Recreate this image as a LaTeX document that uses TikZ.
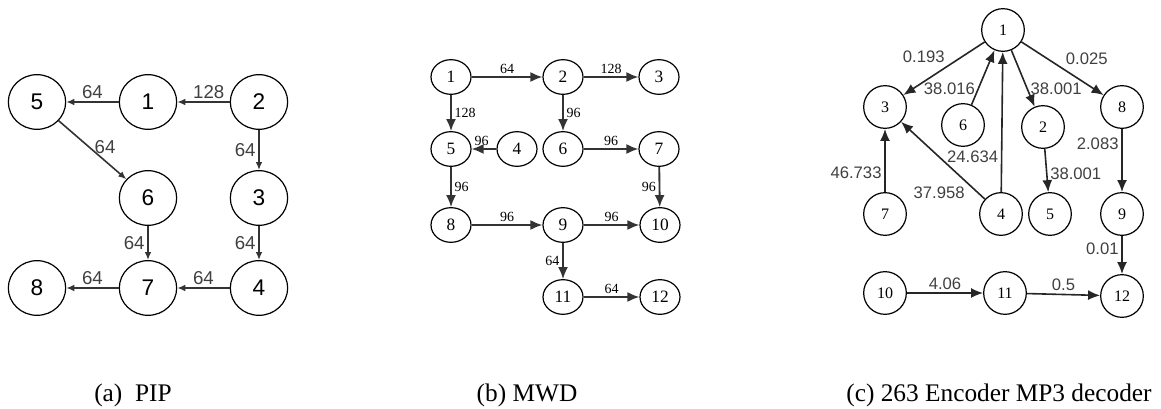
\documentclass[tikz,border=0pt]{standalone}
\usepackage{fontspec}
\setmainfont{Liberation Serif}
\setsansfont{Liberation Sans}
\usetikzlibrary{shapes,arrows.meta}
\usetikzlibrary{positioning}

\begin{document}
\begin{tikzpicture}[x=0.75pt,y=-0.75pt,
  pipnode/.style={ellipse,draw,line width=0.9pt,inner sep=0pt,minimum width=43pt,minimum height=41pt,font=\sffamily\fontsize{17}{17}\selectfont},
  pipedge/.style={line width=1.2pt,draw=black!80,-{Latex[length=6pt,width=5pt]}},
  piplab/.style={font=\sffamily\fontsize{14}{14}\selectfont,text=black!75,inner sep=2pt},
  mwdnode/.style={ellipse,draw,line width=0.9pt,inner sep=0pt,minimum width=30pt,minimum height=26pt,font=\fontsize{13}{13}\selectfont},
  mwdedge/.style={line width=1.4pt,draw=black!80,-{Latex[length=9pt,width=7.5pt]}},
  mwdlab/.style={font=\fontsize{10.5}{10.5}\selectfont,inner sep=2pt},
  encnode/.style={circle,draw,line width=0.9pt,inner sep=0pt,minimum size=32pt,font=\fontsize{12}{12}\selectfont},
  encedge/.style={line width=1.2pt,draw=black!85,-{Latex[length=9pt,width=7.5pt]}},
  enclab/.style={font=\sffamily\fontsize{12.5}{12.5}\selectfont,text=black!75,inner sep=2pt},
  caption/.style={anchor=base,font=\fontsize{19}{19}\selectfont}]
\useasboundingbox (0,0) rectangle (1161,409);

% (a) PIP
\node[pipnode] (a5) at (37,102) {5};
\node[pipnode] (a1) at (148,102) {1};
\node[pipnode] (a2) at (259,102) {2};
\node[pipnode] (a6) at (148,198) {6};
\node[pipnode] (a3) at (259,198) {3};
\node[pipnode] (a8) at (37,288) {8};
\node[pipnode] (a7) at (148,288) {7};
\node[pipnode] (a4) at (259,288) {4};
\draw[pipedge] (a1) -- node[piplab,above] {64} (a5);
\draw[pipedge] (a2) -- node[piplab,above,pos=0.4] {128} (a1);
\draw[pipedge] (a5) -- node[piplab,pos=0.55,above right=-5pt] {64} (a6);
\draw[pipedge] (a2) -- node[piplab,left] {64} (a3);
\draw[pipedge] (a6) -- node[piplab,left] {64} (a7);
\draw[pipedge] (a3) -- node[piplab,left] {64} (a4);
\draw[pipedge] (a7) -- node[piplab,above] {64} (a8);
\draw[pipedge] (a4) -- node[piplab,above] {64} (a7);

% (b) MWD
\node[mwdnode] (b1) at (451,77) {1};
\node[mwdnode] (b2) at (563,77) {2};
\node[mwdnode] (b3) at (659,77) {3};
\node[mwdnode] (b5) at (451,149) {5};
\node[mwdnode] (b4) at (517,149) {4};
\node[mwdnode] (b6) at (563,149) {6};
\node[mwdnode] (b7) at (659,149) {7};
\node[mwdnode] (b8) at (451,225) {8};
\node[mwdnode] (b9) at (563,225) {9};
\node[mwdnode] (b10) at (660,225) {10};
\node[mwdnode] (b11) at (563,297) {11};
\node[mwdnode] (b12) at (660,297) {12};
\draw[mwdedge] (b1) -- node[mwdlab,above] {64} (b2);
\draw[mwdedge] (b2) -- node[mwdlab,above] {128} (b3);
\draw[mwdedge] (b1) -- node[mwdlab,right] {128} (b5);
\draw[mwdedge] (b2) -- node[mwdlab,right] {96} (b6);
\draw[mwdedge] (b4) -- node[mwdlab,above,pos=0.6] {96} (b5);
\draw[mwdedge] (b6) -- node[mwdlab,above] {96} (b7);
\draw[mwdedge] (b5) -- node[mwdlab,right] {96} (b8);
\draw[mwdedge] (b7) -- node[mwdlab,left] {96} (b10);
\draw[mwdedge] (b8) -- node[mwdlab,above] {96} (b9);
\draw[mwdedge] (b9) -- node[mwdlab,above] {96} (b10);
\draw[mwdedge] (b9) -- node[mwdlab,left] {64} (b11);
\draw[mwdedge] (b11) -- node[mwdlab,above] {64} (b12);

% (c) 263 Encoder MP3 decoder
\node[encnode] (c1) at (1003,30) {1};
\node[encnode] (c3) at (885,107) {3};
\node[encnode] (c6) at (963,125) {6};
\node[encnode] (c2) at (1043,127) {2};
\node[encnode] (c8) at (1122,107) {8};
\node[encnode] (c7) at (885,214) {7};
\node[encnode] (c4) at (1001,214) {4};
\node[encnode] (c5) at (1050,214) {5};
\node[encnode] (c9) at (1122,214) {9};
\node[encnode] (c10) at (885,293) {10};
\node[encnode] (c11) at (1005,293) {11};
\node[encnode] (c12) at (1122,296) {12};
\draw[encedge] (c1) -- node[enclab,pos=0.45,above left] {0.193} (c3);
\draw[encedge] (c6) -- node[enclab,pos=0.3,left] {38.016} (c1);
\draw[encedge] (c4) -- node[enclab,pos=0.25,left] {24.634} (c1);
\draw[encedge] (c1) -- node[enclab,pos=0.68,right] {38.001} (c2);
\draw[encedge] (c1) -- node[enclab,pos=0.5,above right] {0.025} (c8);
\draw[encedge] (c2) -- node[enclab,pos=0.58,right] {38.001} (c5);
\draw[encedge] (c8) -- node[enclab,pos=0.24,left] {2.083} (c9);
\draw[encedge] (c7) -- node[enclab,pos=0.3,left] {46.733} (c3);
\draw[encedge] (c4) -- node[enclab,pos=0.2,below left] {37.958} (c3);
\draw[encedge] (c9) -- node[enclab,pos=0.34,left] {0.01} (c12);
\draw[encedge] (c10) -- node[enclab,above] {4.06} (c11);
\draw[encedge] (c11) -- node[enclab,above] {0.5} (c12);

% captions
\node[caption] (capa) at (133,402) {(a)\enspace PIP};
\node[caption] (capb) at (527,402) {(b) MWD};
\node[caption] (capc) at (999,402) {(c) 263 Encoder MP3 decoder};
\end{tikzpicture}
\end{document}
